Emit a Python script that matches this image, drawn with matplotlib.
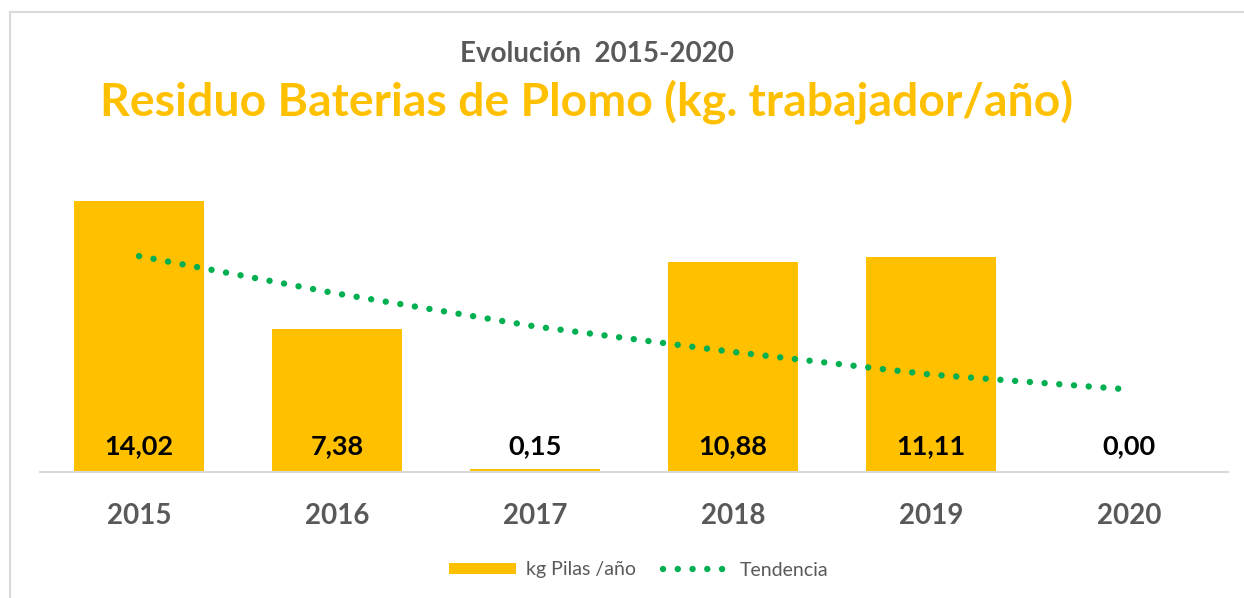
import matplotlib.pyplot as plt
from matplotlib.patches import Rectangle, Patch
from matplotlib.lines import Line2D

# data
years = ["2015", "2016", "2017", "2018", "2019", "2020"]
kg_pilas = [14.02, 7.38, 0.15, 10.88, 11.11, 0.00]
tendencia = [11.17, 9.23, 7.53, 6.21, 5.04, 4.27]

orange = "#FFC000"
green = "#00B050"
gray = "#595959"

plt.rcParams['font.family'] = ['Lato', 'DejaVu Sans']

W, H = 1244, 598
fig = plt.figure(figsize=(W / 100, H / 100), dpi=100)

# outer chart border (cropped at right/bottom in the original)
fig.patches.append(Rectangle((10 / W, -0.1), 1.2, 1.1 - 12 / H,
                             transform=fig.transFigure, fill=False,
                             edgecolor="#d9d9d9", linewidth=1.5))

ax = fig.add_axes([40 / W, (H - 472) / H, 1188 / W, 309.3 / H])
x = list(range(len(years)))

ax.bar(x, kg_pilas, width=0.66, color=orange, zorder=2)
ax.plot(x, tendencia, color=green, linewidth=4.6,
        linestyle=(0, (0.01, 2.3)), dash_capstyle='round', zorder=3)

for i, v in enumerate(kg_pilas):
    ax.annotate(f"{v:.2f}".replace('.', ','), xy=(i, 0), xytext=(0, 13),
                textcoords='offset points', ha='center', va='baseline',
                fontsize=19.5, fontweight='bold', color='black')

ax.set_xlim(-0.5, 5.5)
ax.set_ylim(0, 16)
ax.set_xticks(x)
ax.set_xticklabels(years, fontsize=20, fontweight='bold', color=gray)
ax.tick_params(axis='x', length=0, pad=22)
ax.set_yticks([])
for s in ['top', 'left', 'right']:
    ax.spines[s].set_visible(False)
ax.spines['bottom'].set_color("#d9d9d9")
ax.spines['bottom'].set_linewidth(1.5)

fig.text(597 / W, 1 - 62 / H, "Evolución  2015-2020", ha='center', va='baseline',
         fontsize=20, fontweight='bold', color=gray)
fig.text(587 / W, 1 - 116 / H, "Residuo Baterias de Plomo (kg. trabajador/año)",
         ha='center', va='baseline', fontsize=33.4, fontweight='bold', color=orange)

handles = [Patch(facecolor=orange, edgecolor='none', label="kg Pilas /año"),
           Line2D([0], [0], color=green, linewidth=4.6, linestyle=(0, (0.01, 2.3)),
                  dash_capstyle='round', label="Tendencia")]
fig.legend(handles=handles, loc='center', bbox_to_anchor=(639 / W, 1 - 570 / H),
           ncol=2, frameon=False, fontsize=14, labelcolor=gray,
           handlelength=3.45, handleheight=0.45, columnspacing=1.4, handletextpad=0.5)

fig.savefig("out.png", dpi=100)
